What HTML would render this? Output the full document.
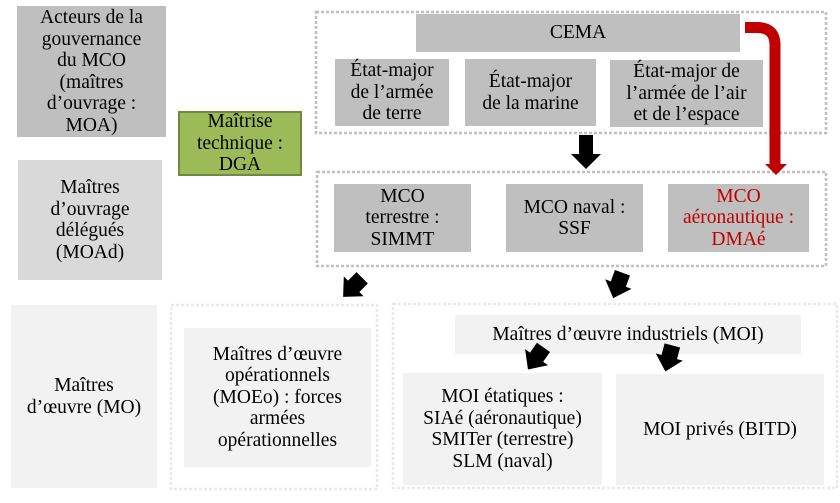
<!DOCTYPE html>
<html>
<head>
<meta charset="utf-8">
<style>
html,body{margin:0;padding:0;background:#fff;}
body{width:840px;height:503px;position:relative;overflow:hidden;font-family:"Liberation Serif","DejaVu Serif",serif;font-size:19.5px;line-height:21.5px;color:#000;}
.b{position:absolute;display:flex;align-items:center;justify-content:center;text-align:center;white-space:nowrap;box-sizing:border-box;}
svg{position:absolute;left:0;top:0;}
</style>
</head>
<body>
<svg width="840" height="503" viewBox="0 0 840 503">
  <rect x="316" y="12" width="510" height="121" fill="none" stroke="#bfbfbf" stroke-width="2.5" stroke-dasharray="3 2"/>
  <rect x="317" y="172" width="509" height="94" fill="none" stroke="#bfbfbf" stroke-width="2.5" stroke-dasharray="3 2"/>
  <rect x="171" y="305" width="206" height="184" fill="none" stroke="#e9e9e9" stroke-width="2.5" stroke-dasharray="3 2"/>
  <rect x="393" y="304" width="444" height="184" fill="none" stroke="#e9e9e9" stroke-width="2.5" stroke-dasharray="3 2"/>
</svg>

<div class="b" style="left:17px;top:6px;width:149px;height:131px;background:#bfbfbf;">Acteurs de la<br>gouvernance<br>du MCO<br>(maîtres<br>d’ouvrage :<br>MOA)</div>
<div class="b" style="left:178px;top:111px;width:124px;height:65px;background:#9bbb59;border:2px solid #71893f;">Maîtrise<br>technique :<br>DGA</div>
<div class="b" style="left:18px;top:160px;width:144px;height:120px;background:#d9d9d9;">Maîtres<br>d’ouvrage<br>délégués<br>(MOAd)</div>
<div class="b" style="left:11px;top:305px;width:146px;height:183px;background:#f2f2f2;">Maîtres<br>d’œuvre (MO)</div>

<div class="b" style="left:416px;top:14px;width:324px;height:38px;background:#bfbfbf;">CEMA</div>
<div class="b" style="left:335px;top:59px;width:114px;height:67px;background:#bfbfbf;">État-major<br>de l’armée<br>de terre</div>
<div class="b" style="left:465px;top:59px;width:131px;height:67px;background:#bfbfbf;">État-major<br>de la marine</div>
<div class="b" style="left:610px;top:60px;width:153px;height:67px;background:#bfbfbf;">État-major de<br>l’armée de l’air<br>et de l’espace</div>

<div class="b" style="left:334px;top:184px;width:137px;height:68px;background:#bfbfbf;">MCO<br>terrestre :<br>SIMMT</div>
<div class="b" style="left:506px;top:184px;width:137px;height:68px;background:#bfbfbf;">MCO naval :<br>SSF</div>
<div class="b" style="left:668px;top:184px;width:141px;height:68px;background:#bfbfbf;color:#c00000;">MCO<br>aéronautique :<br>DMAé</div>

<div class="b" style="left:184px;top:328px;width:187px;height:139px;background:#f2f2f2;">Maîtres d’œuvre<br>opérationnels<br>(MOEo) : forces<br>armées<br>opérationnelles</div>
<div class="b" style="left:455px;top:315px;width:346px;height:39px;background:#f2f2f2;">Maîtres d’œuvre industriels (MOI)</div>
<div class="b" style="left:403px;top:373px;width:199px;height:112px;background:#f2f2f2;">MOI étatiques :<br>SIAé (aéronautique)<br>SMITer (terrestre)<br>SLM (naval)</div>
<div class="b" style="left:616px;top:374px;width:208px;height:111px;background:#f2f2f2;">MOI privés (BITD)</div>

<svg width="840" height="503" viewBox="0 0 840 503">
  <!-- big down arrow -->
  <rect x="579" y="135" width="14" height="20" fill="#000"/>
  <polygon points="571,154 601,154 586,169" fill="#000"/>
  <!-- red bent arrow -->
  <path d="M745 27.5 H757 Q775 27.5 775 45 V166" fill="none" stroke="#c00000" stroke-width="11"/>
  <polygon points="765,164 787,164 776,175" fill="#c00000"/>
  <!-- small rotated arrows -->
  <g fill="#000">
    <polygon transform="translate(353,287) rotate(45)" points="-8,-13 8,-13 8,-1 14,-1 0,14 -14,-1 -8,-1"/>
    <polygon transform="translate(618,285) rotate(20)" points="-8,-13 8,-13 8,-1 14,-1 0,14 -14,-1 -8,-1"/>
    <polygon transform="translate(536,358) rotate(35)" points="-8,-13 8,-13 8,-1 14,-1 0,14 -14,-1 -8,-1"/>
    <polygon transform="translate(669,358) rotate(15)" points="-8,-13 8,-13 8,-1 14,-1 0,14 -14,-1 -8,-1"/>
  </g>
</svg>
</body>
</html>
